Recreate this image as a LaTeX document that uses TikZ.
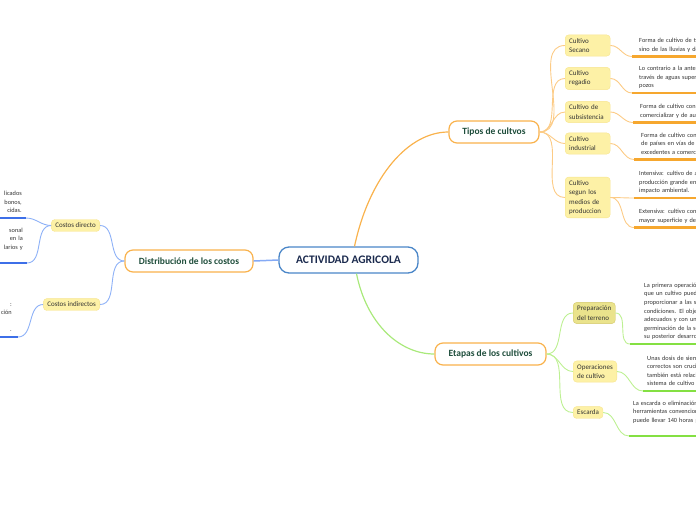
\documentclass[tikz,border=0pt]{standalone}
\usepackage{fontspec}
\setmainfont{Carlito}

\definecolor{rootblue}{HTML}{4A86C8}
\definecolor{rootink}{HTML}{1B2A4E}
\definecolor{themeink}{HTML}{1E4D3B}
\definecolor{themeline}{HTML}{F9B24C}
\definecolor{boxfill}{HTML}{FDF1A6}
\definecolor{boxline}{HTML}{F7E48F}
\definecolor{selfill}{HTML}{EAE38C}
\definecolor{selline}{HTML}{D3C86A}
\definecolor{noteink}{HTML}{333333}
\definecolor{linkblue}{HTML}{8DB1F7}
\definecolor{ruleblue}{HTML}{3D6FE8}
\definecolor{linkorange}{HTML}{FCCB85}
\definecolor{ruleorange}{HTML}{F6A72E}
\definecolor{linkgreen}{HTML}{BDF092}
\definecolor{rulegreen}{HTML}{84E043}

\begin{document}
\begin{tikzpicture}[x=1pt,y=-1pt,font=\fontsize{7}{9.3}\selectfont]
    \tikzstyle{centre}=[draw=rootblue, line width=1.3pt, rounded corners=10pt, fill=white,
        text=rootink, font=\bfseries\fontsize{11.5}{13}\selectfont,
        minimum width=139pt, minimum height=26pt]
    \tikzstyle{theme}=[draw=themeline, line width=1.2pt, rounded corners=8pt, fill=white,
        text=themeink, font=\bfseries\fontsize{9.5}{11}\selectfont, minimum height=22pt]
    \tikzstyle{topic}=[draw=boxline, fill=boxfill, rounded corners=3.5pt, align=left,
        text=noteink, inner xsep=4pt, inner ysep=3.5pt]
    \tikzstyle{chosen}=[topic, draw=selline, fill=selfill]
    \tikzstyle{note}=[anchor=south west, text width=100pt, align=left, text=noteink,
        font=\fontsize{6.3}{8.6}\selectfont, inner xsep=7pt, inner ysep=2.4pt,
        execute at end node=\strut]
    \tikzstyle{lnote}=[note, anchor=south east, text width=36pt, align=right, inner xsep=4pt]
    \tikzstyle{rlink}=[out=0, in=180]
    \tikzstyle{llink}=[out=180, in=0]
    \tikzstyle{bluetwig}=[draw=linkblue, line width=0.9pt]
    \tikzstyle{orangetwig}=[draw=linkorange, line width=0.9pt]
    \tikzstyle{greentwig}=[draw=linkgreen, line width=0.9pt]
    \tikzstyle{bluerule}=[draw=ruleblue, line width=2.2pt]
    \tikzstyle{orangerule}=[draw=ruleorange, line width=2.2pt]
    \tikzstyle{greenrule}=[draw=rulegreen, line width=2.2pt]

    \useasboundingbox (0,0) rectangle (696,520);
    \clip (0,0) rectangle (696,520);

    % Centre and main themes
    \node[centre] (root) at (348.5,260) {ACTIVIDAD AGRICOLA};
    \node[theme, minimum width=128pt] (dist) at (189,261) {Distribución de los costos};
    \node[theme, minimum width=90pt] (tipos) at (494,132) {Tipos de cultvos};
    \node[theme, minimum width=111pt] (etapas) at (490.5,354) {Etapas de los cultivos};

    % Costs
    \node[topic, anchor=east] (directo) at (100,225.5) {Costos directo};
    \node[topic, anchor=east] (indirecto) at (100,304.5) {Costos indirectos};
    \node[lnote] (directoA) at (26,218) {licados\\bonos,\\cidas.};
    \node[lnote] (directoB) at (27,263) {sonal\\en la\\larios y\\\mbox{}};
    \node[lnote, inner xsep=6pt] (indirectoA) at (18,337) {:\\ción\\\mbox{}\\.};

    % Crop types
    \node[topic, anchor=west, text width=37pt] (secano) at (565,45.5) {Cultivo\\Secano};
    \node[topic, anchor=west, text width=37pt] (regadio) at (565,78.5) {Cultivo\\regadio};
    \node[topic, anchor=west, text width=37pt] (subsist) at (565,112) {Cultivo de\\subsistencia};
    \node[topic, anchor=west, text width=37pt] (industrial) at (565,143.5) {Cultivo\\industrial};
    \node[topic, anchor=west, text width=37pt] (medios) at (565,197.5)
        {Cultivo\\segun los\\medios de\\produccion};

    \node[note] (secanoT) at (632,56.5) {Forma de cultivo de tierras\\sino de las lluvias y del};
    \node[note] (regadioT) at (632,93)
        {Lo contrario a la anterior,\\través de aguas superficiales\\pozos};
    \node[note] (subsistT) at (633,122.5)
        {Forma de cultivo con fines\\comercializar y de autoconsumo};
    \node[note] (industrialT) at (634,159.5)
        {Forma de cultivo con fines\\de países en vías de desarrollo\\excedentes a comercializar};
    \node[note, inner xsep=5pt] (intensT) at (634,198)
        {Intensiva: cultivo de alta\\producción grande en\\impacto ambiental.};
    \node[note, inner xsep=5pt] (extensT) at (634,227.5)
        {Extensiva: cultivo con una\\mayor superficie y de};

    % Crop stages
    \node[chosen, anchor=west] (prep) at (573,313) {Preparación\\del terreno};
    \node[topic, anchor=west] (oper) at (573,371.5) {Operaciones\\de cultivo};
    \node[topic, anchor=west] (escarda) at (573,412.5) {Escarda};

    \node[note, inner xsep=14pt] (prepT) at (630,344)
        {La primera operación para\\que un cultivo pueda\\proporcionar a las semillas\\condiciones. El objetivo\\adecuados y con una\\germinación de la semilla\\su posterior desarrollo.};
    \node[note, inner xsep=4pt] (operT) at (643,391)
        {Unas dosis de siembra\\correctos son cruciales\\también está relacionado\\sistema de cultivo};
    \node[note, inner xsep=4pt] (escardaT) at (629,436)
        {La escarda o eliminación\\herramientas convencionales\\puede llevar 140 horas por\\\mbox{}};

    % Main branches
    \draw[draw=linkblue!90!ruleblue, line width=1.5pt] (root.west) -- (dist.east);
    \draw[draw=themeline, line width=1.2pt] ([xshift=6pt]root.north)
        .. controls +(15,-70) and +(-40,0) .. (tipos.west);
    \draw[draw=rulegreen!70!white, line width=1.2pt] ([xshift=8pt]root.south)
        .. controls +(10,50) and +(-35,0) .. (etapas.west);

    % Cost links
    \draw[bluetwig] (dist.west) to[llink] (directo.east);
    \draw[bluetwig] (dist.west) to[llink] (indirecto.east);
    \draw[bluetwig] (directo.west) to[llink] (directoA.south east);
    \draw[bluetwig] (directo.west) to[llink] (directoB.south east);
    \draw[bluetwig] (indirecto.west) to[llink] (indirectoA.south east);
    \foreach \n in {directoA,directoB,indirectoA}
        \draw[bluerule] (\n.south west) -- (\n.south east);

    % Crop type links
    \foreach \n in {secano,regadio,subsist,industrial,medios}
        \draw[orangetwig] (tipos.east) to[rlink] (\n.west);
    \draw[orangetwig] (secano.east) to[rlink] (secanoT.south west);
    \draw[orangetwig] (regadio.east) to[rlink] (regadioT.south west);
    \draw[orangetwig] (subsist.east) to[rlink] (subsistT.south west);
    \draw[orangetwig] (industrial.east) to[rlink] (industrialT.south west);
    \draw[orangetwig] (medios.east) to[rlink] (intensT.south west);
    \draw[orangetwig] (medios.east) to[rlink] (extensT.south west);
    \foreach \n in {secanoT,regadioT,subsistT,industrialT,intensT,extensT}
        \draw[orangerule] (\n.south west) -- (\n.south east);

    % Crop stage links
    \foreach \n in {prep,oper,escarda}
        \draw[greentwig] (etapas.east) to[rlink] (\n.west);
    \draw[greentwig] (prep.east) to[rlink] (prepT.south west);
    \draw[greentwig] (oper.east) to[rlink] (operT.south west);
    \draw[greentwig] (escarda.east) to[rlink] (escardaT.south west);
    \foreach \n in {prepT,operT,escardaT}
        \draw[greenrule] (\n.south west) -- (\n.south east);
\end{tikzpicture}
\end{document}
